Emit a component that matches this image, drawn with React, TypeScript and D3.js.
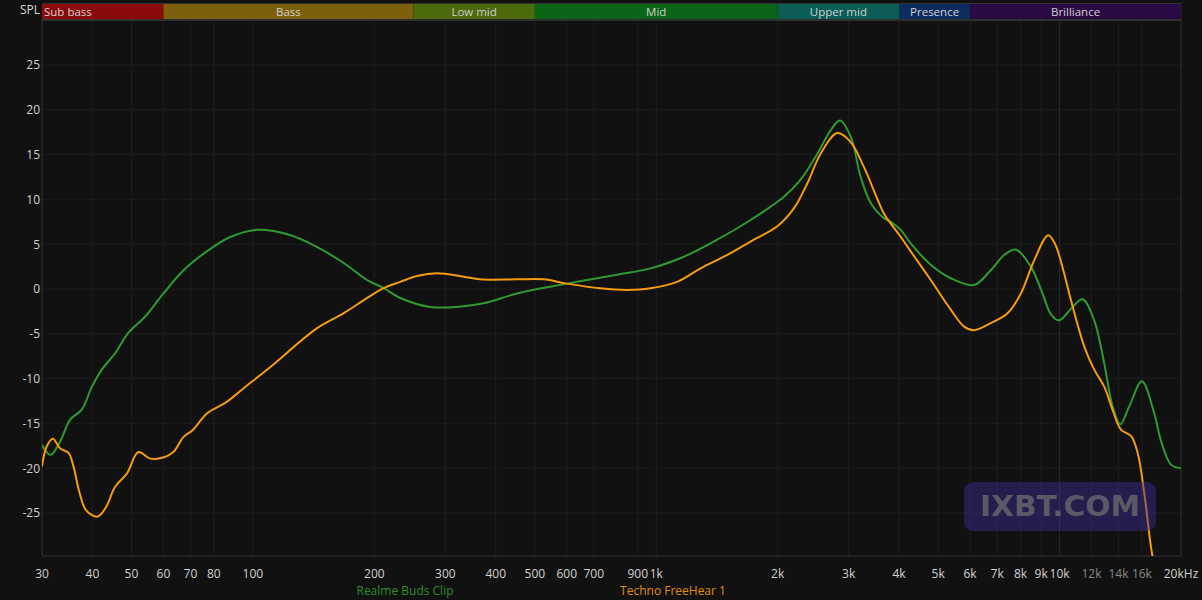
import React, { useEffect } from 'react';
import * as d3 from 'd3';

const W = 1202;
const H = 600;

const bandNames = ['Sub bass', 'Bass', 'Low mid', 'Mid', 'Upper mid', 'Presence', 'Brilliance'];
const bandEdges = [30, 60, 250, 500, 2000, 4000, 6000, 20000];
const bandColors = ['#8a0b0b', '#7d600b', '#4a6a0b', '#0b6516', '#0b5e55', '#0b2c5e', '#2a0b45'];

const tickFreqs = [30, 40, 50, 60, 70, 80, 100, 200, 300, 400, 500, 600, 700, 900, 1000, 2000, 3000, 4000, 5000, 6000, 7000, 8000, 9000, 10000, 12000, 14000, 16000, 20000];
const tickLabels = ['30', '40', '50', '60', '70', '80', '100', '200', '300', '400', '500', '600', '700', '900', '1k', '2k', '3k', '4k', '5k', '6k', '7k', '8k', '9k', '10k', '12k', '14k', '16k', '20kHz'];
const dimTickLabels = ['12k', '14k', '16k'];
const yTicks = [25, 20, 15, 10, 5, 0, -5, -10, -15, -20, -25];

const seriesNames = ['Realme Buds Clip', 'Techno FreeHear 1'];
const seriesColors = ['#2f9a2f', '#f59b10'];
const legendColors = ['#2a8f2a', '#e08c0c'];

const realmeFreqs = [30, 31.5, 33.3, 35.2, 37.6, 39.9, 42.2, 45.5, 49.1, 54, 60, 67.3, 76.9, 87.8, 102, 124, 144, 168, 192, 211, 232, 275, 321, 373, 452, 601, 800, 968, 1170, 1416, 1713, 2073, 2280, 2509, 2706, 2853, 3035, 3213, 3402, 3671, 3815, 4039, 4275, 4793, 5373, 6138, 6753, 7286, 7791, 8487, 9054, 9515, 9976, 10770, 11406, 12186, 12904, 13536, 14140, 14886, 16000, 17170, 17830, 18886, 20000];
const realmeDb = [-17.4, -18.5, -17.0, -14.6, -13.5, -10.9, -9.0, -7.2, -4.9, -3.1, -0.5, 2.1, 4.2, 5.8, 6.6, 6.0, 4.7, 2.9, 1.0, 0.1, -1.0, -2.0, -2.0, -1.6, -0.5, 0.6, 1.6, 2.3, 3.6, 5.5, 7.7, 10.3, 12.2, 15.1, 17.7, 18.8, 17.0, 12.5, 9.6, 7.9, 7.5, 6.6, 5.1, 2.7, 1.2, 0.45, 2.1, 3.8, 4.4, 2.5, -0.4, -2.8, -3.5, -2.0, -1.15, -3.5, -8.3, -13.1, -15.1, -13.1, -10.3, -13.9, -16.9, -19.6, -20.0];

const technoFreqs = [30, 30.8, 31.9, 33.3, 34.9, 35.9, 37.2, 38.6, 41.2, 43.3, 45.5, 48.7, 52, 55.4, 58.9, 63.5, 67.3, 71.1, 76.9, 86.1, 94.7, 110.5, 144, 168, 192, 211, 232, 255, 286, 333, 366, 452, 526, 601, 727, 847, 968, 1127, 1288, 1500, 1713, 1996, 2194, 2370, 2556, 2811, 3035, 3274, 3671, 3815, 4039, 4275, 4793, 5373, 5800, 6138, 6753, 7430, 8017, 8650, 9370, 9750, 10200, 10665, 11510, 12186, 12904, 13536, 14195, 15033, 15619, 16218, 16852, 17337];
const technoDb = [-19.8, -17.6, -16.7, -17.8, -18.3, -19.8, -22.8, -24.7, -25.4, -24.3, -22.1, -20.6, -18.2, -18.9, -18.9, -18.2, -16.5, -15.7, -13.9, -12.6, -11.1, -8.7, -4.4, -2.7, -1.0, 0.1, 0.8, 1.45, 1.75, 1.37, 1.08, 1.08, 1.08, 0.6, 0.08, -0.1, 0.08, 0.8, 2.3, 3.8, 5.3, 7.0, 9.0, 11.8, 15.1, 17.4, 16.4, 13.6, 8.4, 7.3, 5.8, 4.2, 1.0, -2.3, -4.2, -4.6, -3.8, -2.7, -0.5, 3.2, 6.0, 5.0, 2.2, -1.2, -6.4, -9.0, -10.9, -13.5, -15.7, -16.4, -18.3, -22.8, -28.8, -32];

const FONT = '"Open Sans", "Noto Sans", sans-serif';

export default function App() {
  useEffect(() => {
    document.body.style.margin = '0';
    document.body.style.background = '#111111';
  }, []);

  const left = 42;
  const right = 1181;
  const top = 20;
  const bottom = 556;

  const x = d3.scaleLog().domain([30, 20000]).range([left, right]);
  const y = d3.scaleLinear().domain([-30, 30]).range([557.8, 20.2]);

  const line = d3
    .line<[number, number]>()
    .x((d) => x(d[0]))
    .y((d) => y(d[1]))
    .curve(d3.curveCatmullRom.alpha(0.5));

  const realme: [number, number][] = realmeFreqs.map((f, i) => [f, realmeDb[i]]);
  const techno: [number, number][] = technoFreqs.map((f, i) => [f, technoDb[i]]);

  return (
    <svg width={W} height={H} style={{ display: 'block', position: 'absolute', left: 0, top: 0, background: '#111111' }} fontFamily={FONT}>
      <rect x={0} y={0} width={W} height={H} fill="#111111" />
      <defs>
        <clipPath id="plotClip">
          <rect x={left} y={top} width={right - left} height={bottom - top} />
        </clipPath>
      </defs>

      {/* horizontal grid */}
      {yTicks.map((t) => (
        <line key={'h' + t} x1={left} x2={right} y1={y(t)} y2={y(t)} stroke="#1c1c1c" strokeWidth={1} />
      ))}
      {/* vertical grid */}
      {tickFreqs.map((f) => (
        <line
          key={'v' + f}
          x1={x(f)}
          x2={x(f)}
          y1={top}
          y2={bottom}
          stroke={f === 10000 ? '#2a2a2a' : '#1e1e1e'}
          strokeWidth={1}
        />
      ))}

      {/* axes frame */}
      <line x1={left} x2={left} y1={top} y2={bottom} stroke="#2c2c2c" />
      <line x1={right} x2={right} y1={3} y2={bottom} stroke="#2c2c2c" />
      <line x1={left} x2={right} y1={bottom} y2={bottom} stroke="#333333" />

      {/* bands */}
      <line x1={left} x2={right} y1={3.5} y2={3.5} stroke="#333" />
      {bandNames.map((name, i) => {
        const x0 = x(bandEdges[i]);
        const x1 = x(bandEdges[i + 1]);
        return (
          <g key={name}>
            <rect x={x0} y={4} width={x1 - x0} height={15} fill={bandColors[i]} />
            <text
              x={i === 0 ? x0 + 2 : (x0 + x1) / 2}
              y={16}
              fontSize={11.5}
              fill="#d0d0d0"
              textAnchor={i === 0 ? 'start' : 'middle'}
            >
              {name}
            </text>
          </g>
        );
      })}
      <line x1={left} x2={right} y1={20} y2={20} stroke="#3a3a3a" strokeWidth={1.5} />

      {/* SPL label */}
      <text x={40} y={14} fontSize={12} fill="#d8d8d8" textAnchor="end">SPL</text>

      {/* y tick labels */}
      {yTicks.map((t) => (
        <text key={'yl' + t} x={40} y={y(t) + 4.3} fontSize={12} fill="#cfcfcf" textAnchor="end">
          {t}
        </text>
      ))}

      {/* x tick labels */}
      {tickFreqs.map((f, i) => (
        <text
          key={'xl' + f}
          x={x(f)}
          y={578}
          fontSize={12}
          fill={dimTickLabels.includes(tickLabels[i]) ? '#8a8a8a' : '#d2d2d2'}
          textAnchor="middle"
        >
          {tickLabels[i]}
        </text>
      ))}

      {/* curves */}
      <g clipPath="url(#plotClip)">
        <path d={line(realme) || ''} fill="none" stroke={seriesColors[0]} strokeWidth={2} />
        <path d={line(techno) || ''} fill="none" stroke={seriesColors[1]} strokeWidth={2} />
      </g>

      {/* legend */}
      <text x={405} y={595} fontSize={12} fill={legendColors[0]} textAnchor="middle">{seriesNames[0]}</text>
      <text x={673} y={595} fontSize={12} fill={legendColors[1]} textAnchor="middle">{seriesNames[1]}</text>

      {/* watermark */}
      <rect x={964} y={482} width={192} height={49} rx={9} ry={9} fill="rgba(62,45,150,0.45)" />
      <text x={1060} y={516} fontSize={28} fontWeight={700} fill="rgba(110,110,110,0.75)" textAnchor="middle" textLength={160} lengthAdjust="spacingAndGlyphs" fontFamily='"DejaVu Sans", sans-serif'>
        IXBT.COM
      </text>
    </svg>
  );
}
